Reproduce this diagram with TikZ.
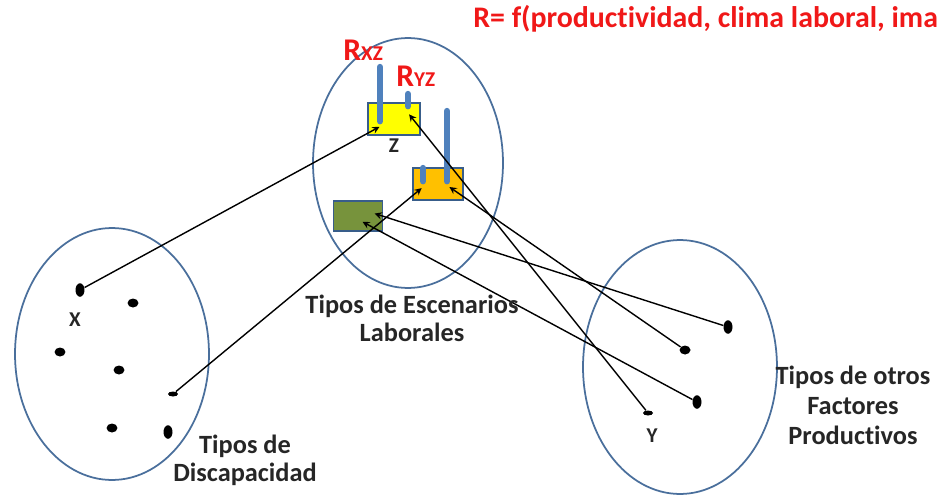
\documentclass[tikz,border=0pt]{standalone}
\usepackage{fontspec}
\setmainfont{Carlito}[Ligatures=NoCommon]
\usetikzlibrary{shapes,arrows}
\usetikzlibrary{positioning}
\usepackage{xcolor}
\definecolor{setblue}{HTML}{4A6F9C}
\definecolor{barblue}{HTML}{4F81BD}
\definecolor{boxline}{HTML}{385D8A}
\definecolor{zyellow}{HTML}{FFFF00}
\definecolor{zorange}{HTML}{FFC000}
\definecolor{zgreen}{HTML}{77933C}
\definecolor{rred}{HTML}{F01818}
\definecolor{txt}{HTML}{262626}

\begin{document}
\begin{tikzpicture}[x=0.02cm, y=-0.02cm, >=stealth, shorten >=1pt,
  set/.style={draw=setblue, line width=1pt, ellipse, inner sep=0pt},
  scen/.style={draw=boxline, line width=0.8pt, inner sep=0pt, minimum height=0.64cm},
  bar/.style={draw=barblue, line width=3.6pt, line cap=round},
  dotv/.style={ellipse, fill=black, inner sep=0pt, minimum width=0.18cm, minimum height=0.27cm},
  dotr/.style={ellipse, fill=black, inner sep=0pt, minimum width=0.22cm, minimum height=0.18cm},
  doth/.style={ellipse, fill=black, inner sep=0pt, minimum width=0.2cm, minimum height=0.1cm},
  lbl/.style={font=\bfseries\fontsize{15}{16}\selectfont, text=txt, align=center},
  var/.style={font=\bfseries\fontsize{12}{13}\selectfont, text=txt},
  rlab/.style={text=rred, font=\bfseries, inner sep=0pt}]
  \useasboundingbox (0,0) rectangle (937,497);
  \clip (0,0) rectangle (937,497);

  % the three sets
  \node[set, minimum width=3.88cm, minimum height=5.04cm] (disc) at (112,354) {};
  \node[set, minimum width=3.8cm, minimum height=5.0cm] (esc) at (408,163) {};
  \node[set, minimum width=3.88cm, minimum height=5.08cm] (fac) at (680,367) {};

  % scenarios
  \node[scen, fill=zyellow, minimum width=1.04cm] (zy) at (394,119) {};
  \node[scen, fill=zorange, minimum width=1.0cm] (zo) at (438,184) {};
  \node[scen, fill=zgreen, minimum width=0.98cm, minimum height=0.6cm] (zg) at (358,216) {};
  \node[var, below=-2pt of zy] (zlab) {Z};

  % relations
  \draw[bar] (380,67) -- (380,123);
  \draw[bar] (408,94) -- (408,108);
  \draw[bar] (447,111) -- (447,183);
  \draw[bar] (423,168) -- (423,183);
  \coordinate (zx) at (381,126);
  \coordinate (zyy) at (408,113);
  \coordinate (ob) at (448,186);
  \coordinate (oa) at (423,187);
  \coordinate (ga) at (373,213);
  \coordinate (gb) at (361,221);

  % elements of the sets
  \node[dotv] (x) at (80,290) {};
  \node[dotr] (d2) at (133,303) {};
  \node[dotr] (d3) at (60,352) {};
  \node[dotr] (d4) at (119,370) {};
  \node[doth] (d5) at (173,394) {};
  \node[dotr] (d6) at (112,428) {};
  \node[dotv] (d7) at (168,432) {};
  \node[var] (xlab) at (75,320) {X};

  \node[dotv] (f1) at (728,327) {};
  \node[dotr] (f2) at (685,350) {};
  \node[dotv] (f3) at (697,402) {};
  \node[doth] (y) at (648,413) {};
  \node[var] (ylab) at (652,436) {Y};

   \path[->, line width=0.8pt]
   (x) edge (zx)
   (d5) edge (oa)
   (y) edge (zyy)
   (f2) edge (ob)
   (f1) edge (ga)
   (f3) edge (gb);

  % texts
  \node[lbl] (escl) at (412,318) {Tipos de Escenarios\\Laborales};
  \node[lbl] (discl) at (245,460) {Tipos de\\Discapacidad};
  \node[lbl, font=\bfseries\fontsize{15}{17}\selectfont] (facl) at (853,405) {Tipos de otros\\Factores\\Productivos};
  \node[rlab, anchor=base west] (rxz) at (343,60) {{\fontsize{18}{18}\selectfont R}{\fontsize{12}{12}\selectfont XZ}};
  \node[rlab, anchor=base west] (ryz) at (396,86) {{\fontsize{18}{18}\selectfont R}{\fontsize{12}{12}\selectfont YZ}};
  \node[rlab, anchor=base west, font=\bfseries\fontsize{17}{18}\selectfont] (rf) at (473,28) {R= f(productividad, clima laboral, ima};
\end{tikzpicture}
\end{document}
